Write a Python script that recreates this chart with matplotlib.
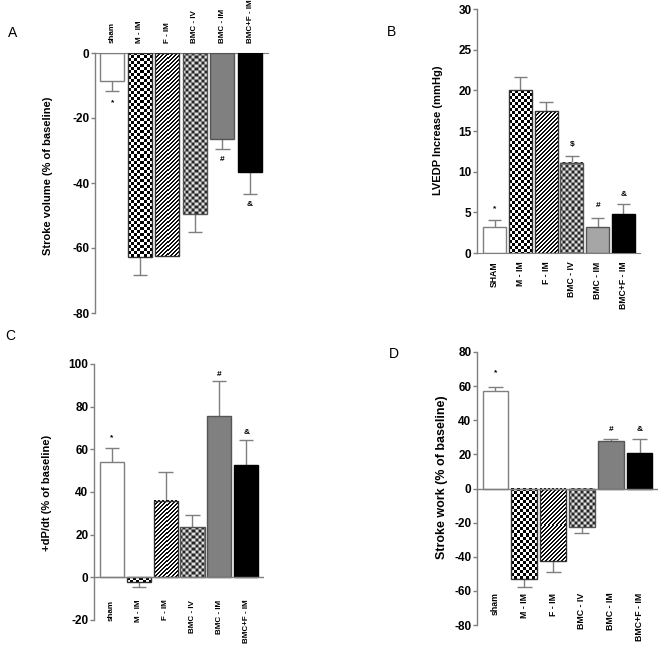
import matplotlib
matplotlib.use("Agg")
import matplotlib.pyplot as plt
import numpy as np

plt.rcParams['font.family'] = ['Liberation Sans', 'DejaVu Sans']
plt.rcParams['axes.unicode_minus'] = False

# ---------------- data ----------------
cats_A = ["sham", "M - IM", "F - IM", "BMC - IV", "BMC - IM", "BMC+F - IM"]
cats_B = ["SHAM", "M - IM", "F - IM", "BMC - IV", "BMC - IM", "BMC+F - IM"]
cats_C = ["sham", "M - IM", "F - IM", "BMC - IV", "BMC - IM", "BMC+F - IM"]
cats_D = ["sham", "M - IM", "F - IM", "BMC - IV", "BMC - IM", "BMC+F - IM"]

stroke_volume = [-8.6, -62.8, -62.4, -49.5, -26.5, -36.6]
stroke_volume_err = [3.1, 5.5, 0.0, 5.5, 3.0, 6.8]
sv_marks = ["*", "", "", "", "#", "&"]
sv_mark_y = [-15.4, 0, 0, 0, -32.9, -46.5]

lvedp = [3.2, 20.0, 17.4, 11.1, 3.2, 4.8]
lvedp_err = [0.9, 1.6, 1.2, 0.8, 1.1, 1.2]
lv_marks = ["*", "", "", "$", "#", "&"]
lv_mark_y = [5.4, 0, 0, 13.3, 5.8, 7.2]

dpdt = [54.2, -2.3, 36.0, 23.4, 75.7, 52.8]
dpdt_err = [6.5, 2.4, 13.5, 5.6, 16.3, 11.7]
dp_marks = ["*", "", "", "", "#", "&"]
dp_mark_y = [65.4, 0, 0, 0, 95.3, 68.0]

stroke_work = [57.0, -53.0, -42.4, -22.4, 27.6, 20.6]
stroke_work_err = [2.4, 4.6, 6.4, 3.5, 1.2, 8.2]
sw_marks = ["*", "", "", "", "#", "&"]
sw_mark_y = [67.6, 0, 0, 0, 34.7, 34.7]

# ---------------- styles ----------------
GRAY_AX = "#7f7f7f"
styles = [
    dict(face="white", pattern=None, edge="#7f7f7f"),
    dict(face="white", pattern="checker", edge="#333333"),
    dict(face="white", pattern="stripes", edge="#333333"),
    dict(face="#808080", pattern="graychecker", edge="#555555"),
    dict(face="#808080", pattern=None, edge="#555555"),
    dict(face="black", pattern=None, edge="black"),
]

W, H = 662, 646
fig = plt.figure(figsize=(W / 100, H / 100), dpi=100)


def px_axes(x0, x1, ytop, ybot):
    return fig.add_axes([x0 / W, 1 - ybot / H, (x1 - x0) / W, (ybot - ytop) / H])


def make_pattern(kind, ny, nx):
    r, c = np.mgrid[0:ny, 0:nx]
    img = np.ones((ny, nx, 3))
    if kind == "checker":
        blk = ((r // 3) + (c // 3)) % 2 == 0
        img[blk] = 0.0
    elif kind == "stripes":
        blk = (r + c) % 4 < 2
        img[blk] = 0.05
    elif kind == "graychecker":
        img[:] = 0.5
        rr, cc = r % 6, c % 6
        white = ((rr < 2) & (cc < 2)) | ((rr >= 3) & (rr < 5) & (cc >= 3) & (cc < 5))
        black = ((rr < 2) & (cc >= 3) & (cc < 5)) | ((rr >= 3) & (rr < 5) & (cc < 2))
        img[white] = 0.88
        img[black] = 0.15
    return img


def draw_bars(ax, vals, errs, width, bmc_im_color=None):
    x = np.arange(len(vals))
    pending = []
    for i, (v, e) in enumerate(zip(vals, errs)):
        st = styles[i]
        face = st["face"]
        if i == 4 and bmc_im_color is not None:
            face = bmc_im_color
        bars = ax.bar(x[i], v, width, color=face, edgecolor="none",
                      linewidth=0, zorder=2)
        ax.bar(x[i], v, width, fill=False, edgecolor=st["edge"],
               linewidth=1.0, zorder=3)
        if st["pattern"]:
            pending.append((bars[0], st["pattern"]))
        if e > 0:
            end = v + np.sign(v) * e
            ax.vlines(x[i], v, end, color=GRAY_AX, linewidth=1.0, zorder=1)
            ax.hlines(end, x[i] - 0.26, x[i] + 0.26, color=GRAY_AX,
                      linewidth=1.0, zorder=1)
    return x, pending


def apply_patterns(ax, pending):
    xl, yl = ax.get_xlim(), ax.get_ylim()
    for bar, kind in pending:
        x0, y0 = bar.get_x(), bar.get_y()
        w, h = bar.get_width(), bar.get_height()
        p0 = ax.transData.transform((x0, y0))
        p1 = ax.transData.transform((x0 + w, y0 + h))
        nx = max(1, int(round(abs(p1[0] - p0[0]))))
        ny = max(1, int(round(abs(p1[1] - p0[1]))))
        img = make_pattern(kind, ny, nx)
        ax.imshow(img, extent=(x0, x0 + w, min(y0, y0 + h), max(y0, y0 + h)),
                  aspect="auto", interpolation="nearest", origin="upper",
                  zorder=2.5, clip_path=bar)
    ax.set_xlim(xl)
    ax.set_ylim(yl)


def style_axes(ax):
    for s in ["right", "top", "bottom"]:
        ax.spines[s].set_visible(False)
    ax.spines["left"].set_color(GRAY_AX)
    ax.spines["left"].set_linewidth(1.0)
    ax.tick_params(axis="y", colors=GRAY_AX, length=3, width=1.0,
                   labelcolor="black", labelsize=8.5, pad=1)
    for lab in ax.get_yticklabels():
        lab.set_fontweight("bold")


def marks(ax, x, labels, ys):
    for xi, lab, yv in zip(x, labels, ys):
        if lab:
            ax.text(xi, yv, lab, ha="center", va="center", fontsize=6,
                    fontweight="bold")


# ---------------- Panel A ----------------
axA = px_axes(95, 268, 53, 313)
xA, pA = draw_bars(axA, stroke_volume, stroke_volume_err, 0.87)
axA.set_xlim(-0.62, 5.65)
axA.set_ylim(-80, 0)
apply_patterns(axA, pA)
axA.set_yticks([0, -20, -40, -60, -80])
style_axes(axA)
axA.spines["top"].set_visible(True)
axA.spines["top"].set_color(GRAY_AX)
axA.xaxis.tick_top()
axA.set_xticks(xA)
axA.set_xticklabels(cats_A, rotation=90, fontsize=5.8, fontweight="bold")
axA.tick_params(axis="x", length=0, pad=7)
marks(axA, xA, sv_marks, sv_mark_y)

# ---------------- Panel B ----------------
axB = px_axes(477, 640, 9, 253)
xB, pB = draw_bars(axB, lvedp, lvedp_err, 0.89, bmc_im_color="#a6a6a6")
axB.set_xlim(-0.68, 5.64)
axB.set_ylim(0, 30)
apply_patterns(axB, pB)
axB.set_yticks([0, 5, 10, 15, 20, 25, 30])
style_axes(axB)
axB.spines["bottom"].set_visible(True)
axB.spines["bottom"].set_color(GRAY_AX)
axB.set_xticks(xB)
axB.set_xticklabels(cats_B, rotation=90, fontsize=6.2, fontweight="bold")
axB.tick_params(axis="x", length=0, pad=6)
marks(axB, xB, lv_marks, lv_mark_y)

# ---------------- Panel C ----------------
axC = px_axes(94, 264, 364, 620)
xC, pC = draw_bars(axC, dpdt, dpdt_err, 0.89)
axC.set_xlim(-0.65, 5.65)
axC.set_ylim(-20, 100)
apply_patterns(axC, pC)
axC.set_yticks([-20, 0, 20, 40, 60, 80, 100])
style_axes(axC)
axC.axhline(0, color=GRAY_AX, linewidth=1.0, zorder=4)
axC.set_xticks([])
for xi, lab in zip(xC, cats_C):
    axC.text(xi, -10.5, lab, rotation=90, ha="center", va="top",
             fontsize=5.8, fontweight="bold")
marks(axC, xC, dp_marks, dp_mark_y)

# ---------------- Panel D ----------------
axD = px_axes(477, 658, 352, 625)
xD, pD = draw_bars(axD, stroke_work, stroke_work_err, 0.89)
axD.set_xlim(-0.64, 5.64)
axD.set_ylim(-80, 80)
apply_patterns(axD, pD)
axD.set_yticks([-80, -60, -40, -20, 0, 20, 40, 60, 80])
style_axes(axD)
axD.axhline(0, color=GRAY_AX, linewidth=1.0, zorder=4)
axD.set_xticks([])
for xi, lab in zip(xD, cats_D):
    axD.text(xi, -61, lab, rotation=90, ha="center", va="top",
             fontsize=6.3, fontweight="bold")
marks(axD, xD, sw_marks, sw_mark_y)

# ---------------- labels ----------------
fig.text(48 / W, 1 - 176 / H, "Stroke volume (% of baseline)", rotation=90,
         ha="center", va="center", fontsize=8, fontweight="bold")
fig.text(438 / W, 1 - 130 / H, "LVEDP Increase (mmHg)", rotation=90,
         ha="center", va="center", fontsize=8, fontweight="bold")
fig.text(47 / W, 1 - 493 / H, "+dP/dt (% of baseline)", rotation=90,
         ha="center", va="center", fontsize=8, fontweight="bold")
fig.text(442 / W, 1 - 477 / H, "Stroke work (% of baseline)", rotation=90,
         ha="center", va="center", fontsize=9, fontweight="bold")

for lab, xp, yp in [("A", 13, 33), ("B", 392, 32), ("C", 10, 336), ("D", 394, 354)]:
    fig.text(xp / W, 1 - yp / H, lab, ha="center", va="center", fontsize=10)

fig.savefig("out.png", dpi=100)
